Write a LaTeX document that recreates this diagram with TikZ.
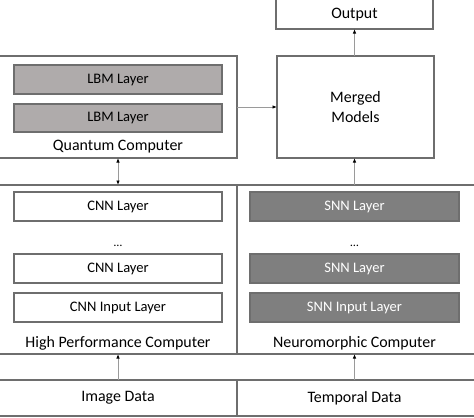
\documentclass[tikz,border=0pt]{standalone}
\usepackage{fontspec}
\setmainfont{Carlito}
\usetikzlibrary{arrows.meta}
\definecolor{edge}{HTML}{6E6E6E}
\definecolor{lbm}{HTML}{AFABAB}
\definecolor{snn}{HTML}{7F7F7F}
\definecolor{arrline}{HTML}{9A9A9A}
\tikzset{
  frame/.style={draw=edge, line width=1.6bp, inner sep=0pt, outer sep=0pt, anchor=north west},
  layer/.style={frame, minimum width=208bp, minimum height=29bp, font=\fontsize{14.6}{16}\selectfont},
  lbmbox/.style={layer, fill=lbm},
  cnnbox/.style={layer, fill=white},
  snnbox/.style={layer, minimum width=209bp, fill=snn, text=white},
  lbl/.style={font=\fontsize{16}{20}\selectfont, inner sep=0pt},
  arr/.style={draw=arrline, line width=1bp, -{Latex[length=4.5bp,width=3.5bp,color=black]}},
  darr/.style={draw=arrline, line width=1bp, {Latex[length=4.5bp,width=3.5bp,color=black]}-{Latex[length=4.5bp,width=3.5bp,color=black]}}
}
\begin{document}
\begin{tikzpicture}[x=1bp,y=-1bp]
\useasboundingbox (0,0) rectangle (474,417);
% Quantum computer
\node[frame, minimum width=243bp, minimum height=102bp] (qc) at (-6,56) {};
\node[lbmbox] (lbm1) at (14,65) {LBM Layer};
\node[lbmbox, minimum height=28bp] (lbm2) at (14,104) {LBM Layer};
\node[lbl] (qclab) at (118,147) {Quantum Computer};
% Merged / output
\node[frame, minimum width=157bp, minimum height=102bp, align=center, font=\fontsize{16}{20}\selectfont] (merged) at (277,56) {Merged\\Models};
\node[frame, minimum width=157bp, minimum height=37bp] (output) at (276,-8) {};
\node[lbl] (outlab) at (354.5,15) {Output};
% HPC
\node[frame, minimum width=243bp, minimum height=169bp] (hpc) at (-6,185) {};
\node[cnnbox] (cnn1) at (14,192) {CNN Layer};
\node[lbl, font=\fontsize{12}{14}\selectfont] (cdots) at (118,246) {\dots};
\node[cnnbox] (cnn2) at (14,254) {CNN Layer};
\node[cnnbox] (cnn3) at (14,293) {CNN Input Layer};
\node[lbl] (hpclab) at (118,343) {High Performance Computer};
% Neuromorphic
\node[frame, minimum width=245bp, minimum height=169bp] (nc) at (237,185) {};
\node[snnbox] (snn1) at (250,192) {SNN Layer};
\node[lbl, font=\fontsize{12}{14}\selectfont] (sdots) at (354.5,246) {\dots};
\node[snnbox] (snn2) at (250,254) {SNN Layer};
\node[snnbox] (snn3) at (250,293) {SNN Input Layer};
\node[lbl] (nclab) at (354.5,343) {Neuromorphic Computer};
% Data
\node[frame, minimum width=243bp, minimum height=36bp] (img) at (-6,380) {};
\node[lbl] (imglab) at (118,398) {Image Data};
\node[frame, minimum width=245bp, minimum height=36bp] (temp) at (237,380) {};
\node[lbl] (templab) at (354.5,398) {Temporal Data};
% Arrows
\draw[arr] (qc.east) -- (merged.west);
\draw[arr] (merged.north -| outlab) -- (output.south -| outlab);
\draw[arr] (nc.north -| snn1) -- (merged.south -| snn1);
\draw[darr] (qc.south -| lbm2) -- (hpc.north -| lbm2);
\draw[arr] (img.north -| cnn3) -- (hpc.south -| cnn3);
\draw[arr] (temp.north -| snn3) -- (nc.south -| snn3);
\end{tikzpicture}
\end{document}
